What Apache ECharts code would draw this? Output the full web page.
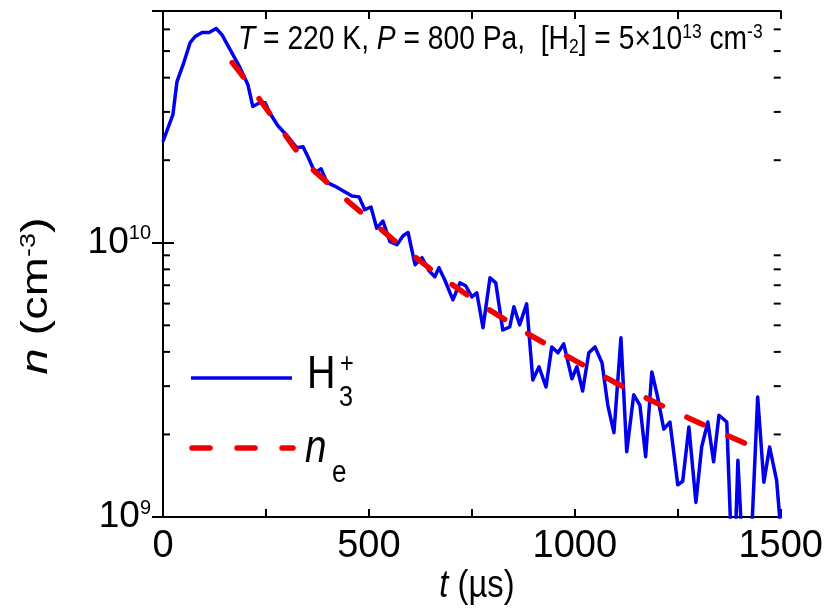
<!DOCTYPE html>
<html>
<head>
<meta charset="utf-8">
<script src="https://cdn.jsdelivr.net/npm/echarts@6/dist/echarts.min.js"></script>
<style>
    html, body { margin: 0; padding: 0; background: #fff; }
    #main { width: 826px; height: 608px; }
</style>
</head>
<body>
<div id="main"></div>
<script>
// H3+ density (blue), t in us
var tH3 = [0, 24, 34, 49, 66, 78, 95, 112, 129, 143, 163, 187, 206, 218, 235, 248, 260, 279, 303, 325,
    340, 352, 369, 384, 398, 417, 442, 459, 476, 490, 505, 519, 534, 551, 568, 583, 595, 612, 629, 646,
    660, 670, 684, 704, 721, 735, 750, 762, 777, 794, 808, 825, 842, 852, 866, 883, 898, 913, 930, 944,
    959, 973, 993, 1005, 1019, 1034, 1049, 1066, 1080, 1095, 1112, 1126, 1143, 1158, 1172, 1187, 1201, 1216, 1231, 1250,
    1262, 1277, 1294, 1308, 1323, 1337, 1350, 1369, 1385, 1396, 1418, 1444, 1459, 1473, 1490, 1500];
var nH3 = [2.34e10, 2.93e10, 3.87e10, 4.47e10, 5.37e10, 5.65e10, 5.84e10, 5.84e10, 6.04e10, 5.74e10,
    5.06e10, 4.35e10, 3.78e10, 3.14e10, 3.24e10, 3.24e10, 2.96e10, 2.67e10, 2.44e10, 2.22e10,
    2.24e10, 2.06e10, 1.80e10, 1.86e10, 1.66e10, 1.61e10, 1.53e10, 1.48e10, 1.47e10, 1.32e10,
    1.35e10, 1.13e10, 1.20e10, 1.01e10, 9.84e9, 1.06e10, 1.09e10, 8.32e9, 8.82e9, 7.90e9,
    7.52e9, 8.11e9, 7.33e9, 6.19e9, 7.14e9, 6.97e9, 6.35e9, 6.57e9, 4.90e9, 7.45e9,
    7.14e9, 4.81e9, 4.93e9, 5.84e9, 5.02e9, 5.99e9, 3.16e9, 3.53e9, 2.98e9, 4.17e9,
    3.97e9, 4.28e9, 3.19e9, 3.53e9, 2.88e9, 3.97e9, 4.17e9, 3.65e9, 2.56e9, 2.03e9,
    4.50e9, 1.73e9, 2.79e9, 2.56e9, 1.66e9, 3.38e9, 2.74e9, 2.09e9, 2.22e9, 1.31e9,
    1.35e9, 2.13e9, 1.13e9, 1.80e9, 2.22e9, 1.59e9, 2.35e9, 2.22e9, 4.98e8, 1.61e9,
    3.56e8, 2.74e9, 1.34e9, 1.80e9, 1.36e9, 9.0e8];

// electron density n_e (red dashed)
var tNe = [168, 189, 265, 345, 451, 561, 670, 781, 891, 1002, 1109, 1218, 1330, 1437];
var nNe = [4.54e10, 4.14e10, 2.88e10, 1.96e10, 1.41e10, 1.02e10, 7.59e9, 5.84e9, 4.61e9, 3.71e9, 3.03e9, 2.52e9, 2.11e9, 1.79e9];

// minor ticks of the log axis
var minorTicks = [2e9, 3e9, 4e9, 5e9, 6e9, 7e9, 8e9, 9e9, 2e10, 3e10, 4e10, 5e10, 6e10, 7e10];

var yMin = 1e9, yMax = 7e10;
var font = "'Liberation Sans', Arial, sans-serif";
var squeeze = 0.84; // the original lettering is a bit condensed

function pairs(xs, ys) {
    var out = [];
    for (var i = 0; i < xs.length; i++) out.push([xs[i], ys[i]]);
    return out;
}

var myChart = echarts.init(document.getElementById('main'));

var axisLine = { show: true, lineStyle: { color: '#000', width: 2 } };

option = {
    animation: false,
    backgroundColor: '#fff',
    grid: { left: 163, right: 45, top: 11, bottom: 91 },
    xAxis: [{
        type: 'value',
        min: 0,
        max: 1500,
        interval: 250,
        axisLine: axisLine,
        axisTick: { inside: true, length: 8, lineStyle: { color: '#000', width: 2 } },
        splitLine: { show: false },
        axisLabel: {
            margin: 11,
            color: '#000',
            fontFamily: font,
            fontSize: 38,
            formatter: function (v) { return v % 500 === 0 ? String(v) : ''; }
        }
    }, {
        type: 'value',
        position: 'top',
        min: 0,
        max: 1500,
        interval: 250,
        axisLine: axisLine,
        axisTick: { inside: true, length: 8, lineStyle: { color: '#000', width: 2 } },
        splitLine: { show: false },
        axisLabel: { show: false }
    }],
    yAxis: [{
        type: 'log',
        logBase: 10,
        min: yMin,
        max: yMax,
        axisLine: axisLine,
        axisTick: { inside: true, length: 11, lineStyle: { color: '#000', width: 2 } },
        splitLine: { show: false },
        minorTick: { show: false },
        axisLabel: {
            margin: 12,
            showMaxLabel: false,
            formatter: function (v) {
                var e = Math.log(v) / Math.LN10;
                if (Math.abs(e - Math.round(e)) > 1e-6) return '';
                return '{b|10}{s|' + Math.round(e) + '}';
            },
            rich: {
                b: { fontFamily: font, fontSize: 37, lineHeight: 38, color: '#000' },
                s: { fontFamily: font, fontSize: 20, lineHeight: 14, verticalAlign: 'top', color: '#000' }
            }
        }
    }, {
        type: 'log',
        logBase: 10,
        position: 'right',
        min: yMin,
        max: yMax,
        axisLine: axisLine,
        axisTick: { inside: true, length: 11, lineStyle: { color: '#000', width: 2 } },
        splitLine: { show: false },
        axisLabel: { show: false }
    }],
    series: [{
        name: 'H3+',
        type: 'line',
        data: pairs(tH3, nH3),
        symbol: 'none',
        clip: true,
        lineStyle: { color: '#0000ee', width: 3.5, join: 'round' },
        z: 3
    }, {
        name: 'ne',
        type: 'line',
        data: pairs(tNe, nNe),
        symbol: 'none',
        clip: true,
        lineStyle: { color: '#ee0000', width: 5.5, type: [18, 27], cap: 'round' },
        z: 4
    }, {
        name: 'minor',
        type: 'custom',
        data: minorTicks.map(function (v) { return [0, v]; }),
        clip: false,
        silent: true,
        z: 5,
        renderItem: function (params, api) {
            var y = api.coord([0, api.value(1)])[1];
            var cs = params.coordSys;
            var st = { stroke: '#000', lineWidth: 2 };
            return {
                type: 'group',
                children: [
                    { type: 'line', shape: { x1: cs.x, y1: y, x2: cs.x + 7, y2: y }, style: st },
                    { type: 'line', shape: { x1: cs.x + cs.width - 7, y1: y, x2: cs.x + cs.width, y2: y }, style: st }
                ]
            };
        }
    }],
    graphic: [{
        type: 'text',
        x: 238,
        y: 40,
        scaleX: 0.83,
        style: {
            text: '{i|T} = 220 K, {i|P} = 800 Pa,  [H{sub|2}] = 5×10{sup|13} cm{sup|-3}',
            fontFamily: font,
            fontSize: 34,
            fill: '#000',
            verticalAlign: 'middle',
            rich: {
                i: { fontFamily: font, fontSize: 34, fontStyle: 'italic', lineHeight: 36 },
                sub: { fontFamily: font, fontSize: 21, lineHeight: 14, verticalAlign: 'bottom' },
                sup: { fontFamily: font, fontSize: 21, lineHeight: 20, verticalAlign: 'top' }
            }
        }
    }, {
        type: 'text',
        x: 477,
        y: 586,
        scaleX: squeeze,
        style: {
            text: '{i|t} (µs)',
            fontFamily: font,
            fontSize: 39,
            fill: '#000',
            align: 'center',
            verticalAlign: 'middle',
            rich: {
                i: { fontFamily: font, fontSize: 39, fontStyle: 'italic' }
            }
        }
    }, {
        type: 'text',
        x: 37,
        y: 296,
        rotation: Math.PI / 2,
        scaleY: 0.8,
        style: {
            text: '{i|n} (cm{sup|-3})',
            fontFamily: font,
            fontSize: 47,
            fill: '#000',
            align: 'center',
            verticalAlign: 'middle',
            rich: {
                i: { fontFamily: font, fontSize: 47, fontStyle: 'italic', lineHeight: 48 },
                sup: { fontFamily: font, fontSize: 27, lineHeight: 22, verticalAlign: 'top' }
            }
        }
    }, {
        type: 'line',
        shape: { x1: 191, y1: 378, x2: 292, y2: 378 },
        style: { stroke: '#0000ee', lineWidth: 3.5 }
    }, {
        type: 'text', x: 307, y: 375, scaleX: squeeze,
        style: { text: 'H', fontFamily: font, fontSize: 47, fill: '#000', verticalAlign: 'middle' }
    }, {
        type: 'text', x: 339, y: 398, scaleX: squeeze,
        style: { text: '3', fontFamily: font, fontSize: 30, fill: '#000', verticalAlign: 'middle' }
    }, {
        type: 'text', x: 340, y: 364, scaleX: squeeze,
        style: { text: '+', fontFamily: font, fontSize: 28, fill: '#000', verticalAlign: 'middle' }
    }, {
        type: 'line',
        shape: { x1: 192, y1: 448, x2: 293, y2: 448 },
        style: { stroke: '#ee0000', lineWidth: 5.5, lineDash: [18, 27], lineCap: 'round' }
    }, {
        type: 'text', x: 305, y: 449, scaleX: squeeze,
        style: { text: 'n', fontFamily: font, fontSize: 46, fontStyle: 'italic', fill: '#000', verticalAlign: 'middle' }
    }, {
        type: 'text', x: 332, y: 473, scaleX: squeeze,
        style: { text: 'e', fontFamily: font, fontSize: 31, fill: '#000', verticalAlign: 'middle' }
    }]
};
myChart.setOption(option);
</script>
</body>
</html>
